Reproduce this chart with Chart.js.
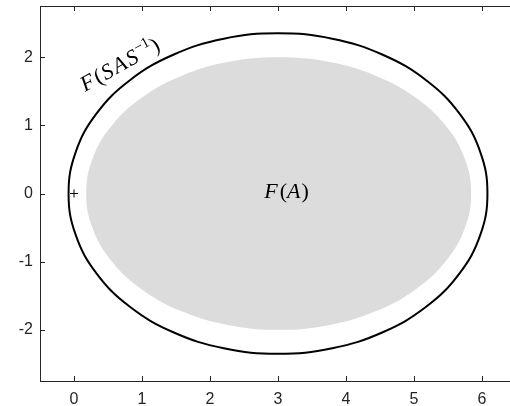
<!DOCTYPE html>
<html>
<head>
<meta charset="utf-8">
<script src="https://cdn.jsdelivr.net/npm/chart.js@4.4.1/dist/chart.umd.min.js"></script>
<style>
  html, body { margin: 0; padding: 0; background: #fff; overflow: hidden; }
  #wrap { width: 510px; height: 406px; overflow: hidden; }
</style>
</head>
<body>
<div id="wrap"><canvas id="chart" width="516" height="406"></canvas></div>
<script>
// tick values
const X_TICKS = [0, 1, 2, 3, 4, 5, 6];
const Y_TICKS = [-2, -1, 0, 1, 2];

// outer boundary F(SAS^-1)
const OUTER_X = [6.08, 5.975, 5.667, 5.178, 4.54, 3.797, 3.0, 2.203, 1.46, 0.822, 0.333, 0.025,
                 -0.08, 0.025, 0.333, 0.822, 1.46, 2.203, 3.0, 3.797, 4.54, 5.178, 5.667, 5.975];
const OUTER_Y = [0, 0.608, 1.175, 1.662, 2.035, 2.27, 2.35, 2.27, 2.035, 1.662, 1.175, 0.608,
                 0, -0.608, -1.175, -1.662, -2.035, -2.27, -2.35, -2.27, -2.035, -1.662, -1.175, -0.608];

// grey region F(A)
const INNER_X = [5.84, 5.744, 5.461, 5.011, 4.425, 3.742, 3.01, 2.278, 1.595, 1.009, 0.559, 0.276,
                 0.18, 0.276, 0.559, 1.009, 1.595, 2.278, 3.01, 3.742, 4.425, 5.011, 5.461, 5.744];
const INNER_Y = [0, 0.518, 1.0, 1.414, 1.732, 1.932, 2.0, 1.932, 1.732, 1.414, 1.0, 0.518,
                 0, -0.518, -1.0, -1.414, -1.732, -1.932, -2.0, -1.932, -1.732, -1.414, -1.0, -0.518];

const MARK_X = [0];
const MARK_Y = [0];

const AXIS_COLOR = '#262626';

// repeat the first points so the spline closes smoothly
function loop(xs, ys) {
    const pts = xs.map((x, i) => ({ x: x, y: ys[i] }));
    return pts.concat(pts.slice(0, 3));
}

const outerPts = loop(OUTER_X, OUTER_Y);
const innerPts = loop(INNER_X, INNER_Y);

const SERIF = '"Liberation Serif", "Times New Roman", serif';

function drawRuns(ctx, runs, x, y, angle, align) {
    ctx.save();
    ctx.translate(x, y);
    ctx.rotate(angle);
    let total = 0;
    runs.forEach(r => {
        ctx.font = r.font;
        r.w = ctx.measureText(r.text).width + (r.gap || 0);
        total += r.w;
    });
    let cx = align === 'center' ? -total / 2 : 0;
    ctx.textBaseline = 'alphabetic';
    ctx.fillStyle = '#000';
    runs.forEach(r => {
        ctx.font = r.font;
        ctx.fillText(r.text, cx, -(r.rise || 0));
        cx += r.w;
    });
    ctx.restore();
}

const framePlugin = {
    id: 'frame',
    afterDatasetsDraw(chart) {
        const ctx = chart.ctx;
        const a = chart.chartArea;
        const xs = chart.scales.x, ys = chart.scales.y;
        ctx.save();
        ctx.strokeStyle = AXIS_COLOR;
        ctx.lineWidth = 1;
        ctx.beginPath();
        ctx.moveTo(a.left, Math.round(a.top) + 0.5);
        ctx.lineTo(a.right, Math.round(a.top) + 0.5);
        X_TICKS.forEach(v => {
            const px = Math.round(xs.getPixelForValue(v)) + 0.5;
            ctx.moveTo(px, a.bottom);
            ctx.lineTo(px, a.bottom - 5);
            ctx.moveTo(px, a.top);
            ctx.lineTo(px, a.top + 5);
        });
        Y_TICKS.forEach(v => {
            const py = Math.round(ys.getPixelForValue(v)) + 0.5;
            ctx.moveTo(a.left, py);
            ctx.lineTo(a.left + 5, py);
            ctx.moveTo(a.right, py);
            ctx.lineTo(a.right - 5, py);
        });
        ctx.stroke();
        ctx.restore();

        // labels
        const it = 'italic 22px ' + SERIF;
        const rm = '22px ' + SERIF;
        const sm = '15px ' + SERIF;
        drawRuns(ctx, [
            { text: 'F', font: it, gap: 2 },
            { text: '(', font: rm },
            { text: 'A', font: it, gap: 1 },
            { text: ')', font: rm }
        ], xs.getPixelForValue(3.125), ys.getPixelForValue(-0.07), 0, 'center');

        drawRuns(ctx, [
            { text: 'F', font: it, gap: 2 },
            { text: '(', font: rm, gap: 1 },
            { text: 'S', font: it, gap: 2 },
            { text: 'A', font: it, gap: 2 },
            { text: 'S', font: it, gap: 1 },
            { text: '\u22121', font: sm, rise: 9 },
            { text: ')', font: rm }
        ], xs.getPixelForValue(0.16), ys.getPixelForValue(1.49), -29 * Math.PI / 180, 'left');
    }
};

const tickFont = { family: '"Liberation Sans", Arial, sans-serif', size: 16 };

new Chart(document.getElementById('chart'), {
    type: 'scatter',
    data: {
        datasets: [
            {
                data: MARK_X.map((x, i) => ({ x: x, y: MARK_Y[i] })),
                pointStyle: 'cross',
                pointRadius: 4,
                pointHoverRadius: 4,
                borderColor: '#000',
                borderWidth: 1,
                showLine: false
            },
            {
                data: outerPts,
                showLine: true,
                tension: 0.4,
                pointRadius: 0,
                pointHoverRadius: 0,
                borderWidth: 2,
                borderColor: '#000',
                fill: false,
                segment: {
                    borderColor: c => (c.p0DataIndex === 0 || c.p0DataIndex === outerPts.length - 2) ? 'rgba(0,0,0,0)' : '#000'
                }
            },
            {
                data: innerPts,
                showLine: true,
                tension: 0.4,
                pointRadius: 0,
                pointHoverRadius: 0,
                borderWidth: 0,
                borderColor: 'rgba(0,0,0,0)',
                backgroundColor: '#dcdcdc',
                fill: 'shape'
            }
        ]
    },
    options: {
        responsive: false,
        devicePixelRatio: 1,
        animation: false,
        events: [],
        layout: { autoPadding: false, padding: { top: 6, right: 0, bottom: 0, left: 0 } },
        plugins: {
            legend: { display: false },
            tooltip: { enabled: false }
        },
        scales: {
            x: {
                type: 'linear',
                min: -0.5,
                max: 6.5,
                grid: { display: false, drawTicks: false },
                border: { display: true, color: AXIS_COLOR, width: 1 },
                ticks: { color: AXIS_COLOR, font: tickFont, padding: 9 },
                afterBuildTicks: s => { s.ticks = X_TICKS.map(v => ({ value: v })); },
                afterFit: s => { s.height = 25; s.paddingLeft = 0; s.paddingRight = 0; }
            },
            y: {
                type: 'linear',
                min: -2.75,
                max: 2.75,
                grid: { display: false, drawTicks: false },
                border: { display: true, color: AXIS_COLOR, width: 1 },
                ticks: { color: AXIS_COLOR, font: tickFont, padding: 7 },
                afterBuildTicks: s => { s.ticks = Y_TICKS.map(v => ({ value: v })); },
                afterFit: s => { s.width = 40; s.paddingTop = 0; s.paddingBottom = 0; }
            }
        }
    },
    plugins: [framePlugin]
});
</script>
</body>
</html>
